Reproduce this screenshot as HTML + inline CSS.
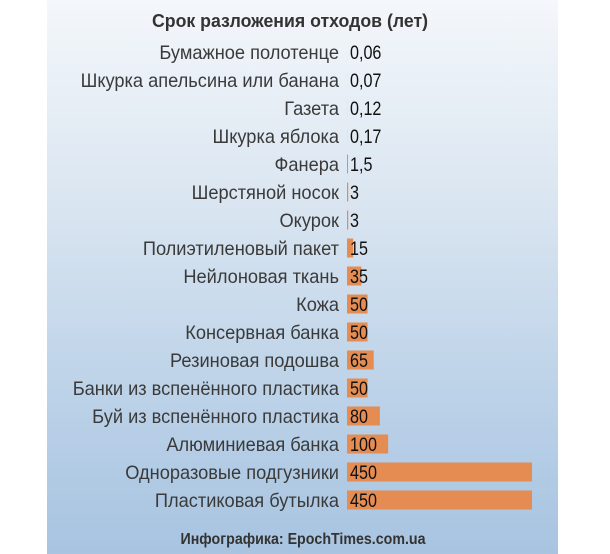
<!DOCTYPE html>
<html><head><meta charset="utf-8"><style>
body{margin:0;width:610px;height:554px;background:#fff;overflow:hidden;font-family:"Liberation Sans",sans-serif}
#panel{position:absolute;left:47px;top:0;width:511px;height:554px;background:linear-gradient(#f4f7fb 0%,#dbe6f1 35%,#b9d0e7 75%,#a8c4e1 100%)}
svg{position:absolute;left:0;top:0}
</style></head><body>
<div id="panel"></div>
<svg id="chart" width="610" height="554">
<text x="290" y="27" text-anchor="middle" font-size="18" font-weight="bold" fill="#333" textLength="276" lengthAdjust="spacingAndGlyphs">Срок разложения отходов (лет)</text>
<text x="303" y="544" text-anchor="middle" font-size="16" font-weight="bold" fill="#333" textLength="245" lengthAdjust="spacingAndGlyphs">Инфографика: EpochTimes.com.ua</text>
</svg>
<script>
const categories=["Бумажное полотенце","Шкурка апельсина или банана","Газета","Шкурка яблока","Фанера","Шерстяной носок","Окурок","Полиэтиленовый пакет","Нейлоновая ткань","Кожа","Консервная банка","Резиновая подошва","Банки из вспенённого пластика","Буй из вспенённого пластика","Алюминиевая банка","Одноразовые подгузники","Пластиковая бутылка"];
const values=[0.06,0.07,0.12,0.17,1.5,3,3,15,35,50,50,65,50,80,100,450,450];
const valueLabels=["0,06","0,07","0,12","0,17","1,5","3","3","15","35","50","50","65","50","80","100","450","450"];
const svg=document.getElementById('chart');
const NS="http://www.w3.org/2000/svg";
const x0=347,xMax=450,wMax=185;
const xs=v=>v/xMax*wMax;
const ys=i=>52+i*28;
categories.forEach((c,i)=>{
  const cy=ys(i);
  const w=Math.max(xs(values[i]),values[i]>=1?1:0);
  const r=document.createElementNS(NS,'rect');
  r.setAttribute('x',x0);r.setAttribute('y',cy-9.5);r.setAttribute('width',w);r.setAttribute('height',19);
  r.setAttribute('fill','#e48c52');
  
  
  svg.appendChild(r);
  const t=document.createElementNS(NS,'text');
  t.setAttribute('x',339);t.setAttribute('y',cy+7);t.setAttribute('text-anchor','end');
  t.setAttribute('font-size','19');t.setAttribute('fill','#3a3a3a');
  t.setAttribute('transform','translate(339 0) scale(0.96 1) translate(-339 0)');
  t.textContent=c;
  
  
  svg.appendChild(t);
  const v=document.createElementNS(NS,'text');
  v.setAttribute('x',350);v.setAttribute('y',cy+7);
  v.setAttribute('font-size','19');v.setAttribute('fill','#111');
  v.setAttribute('transform','translate(350 0) scale(0.85 1) translate(-350 0)');
  v.textContent=valueLabels[i];
  
  
  svg.appendChild(v);
});
</script>
</body></html>
